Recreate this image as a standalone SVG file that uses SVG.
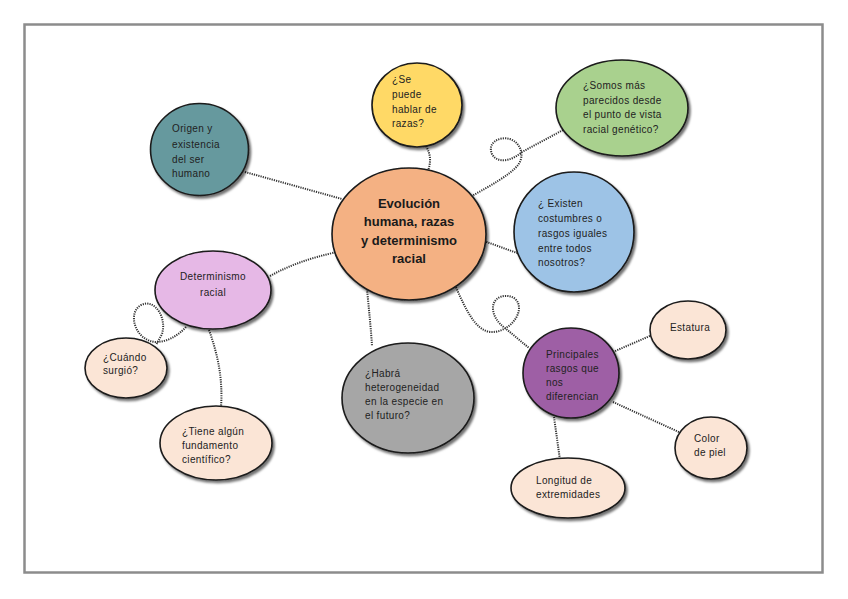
<svg xmlns="http://www.w3.org/2000/svg" width="848" height="599" viewBox="0 0 848 599">
<defs>
<filter id="sh" x="-20%" y="-20%" width="140%" height="140%">
<feDropShadow dx="2" dy="2.5" stdDeviation="1.2" flood-color="#000" flood-opacity="0.55"/>
</filter>
<style>
.n{stroke:#1a1a1a;stroke-width:1.6;filter:url(#sh)}
.t{font-family:"Liberation Sans",Arial,sans-serif;font-size:10px;fill:#222;letter-spacing:0.35px}
.c{text-anchor:middle}
.b{font-weight:bold;font-size:13px;letter-spacing:0;text-anchor:middle;fill:#1a1a1a}
.l{fill:none;stroke:#333;stroke-width:2;stroke-dasharray:1.2 1.1}
</style>
</defs>
<rect x="0" y="0" width="848" height="599" fill="#fff"/>
<rect x="24.5" y="24.5" width="798" height="548" fill="#fff" stroke="#8c8c8c" stroke-width="2.5"/>
<g id="connectors">
<path class="l" d="M245,172 L342,199"/>
<path class="l" d="M426,146 C431,155 431,162 428,171"/>
<path class="l" d="M563,130 L522,152 C512,161 497,164 492,154 C487,143 499,136 510,139 C521,143 525,156 518,165 C510,175 490,186 470,197"/>
<path class="l" d="M484,241 L517,253"/>
<path class="l" d="M270,276 C290,265 310,258 337,252"/>
<path class="l" d="M367,289 C369,310 371,330 372,346"/>
<path class="l" d="M455,285 C465,308 475,330 490,332 C505,333 519,320 519,308 C519,297 508,294 500,297 C489,302 491,318 505,328 L529,348"/>
<path class="l" d="M613,352 L652,335"/>
<path class="l" d="M613,402 L681,433"/>
<path class="l" d="M554,417 L560,460"/>
<path class="l" d="M186,327 Q172,342 155,342 C135,340 127,313 141,305 C155,298 167,318 162,334 L156,345"/>
<path class="l" d="M209,330 C218,355 223,380 221,407"/>
</g>
<g id="origen">
<ellipse class="n" cx="199.5" cy="149.5" rx="49" ry="46" fill="#66999e"/>
<text class="t" x="172" y="132">Origen y</text>
<text class="t" x="172" y="148">existencia</text>
<text class="t" x="172" y="163">del ser</text>
<text class="t" x="172" y="177">humano</text>
</g>
<g id="razas">
<ellipse class="n" cx="417" cy="105" rx="45" ry="42" fill="#ffd966"/>
<text class="t" x="392" y="83">¿Se</text>
<text class="t" x="392" y="98">puede</text>
<text class="t" x="392" y="113">hablar de</text>
<text class="t" x="392" y="127">razas?</text>
</g>
<g id="somos">
<ellipse class="n" cx="622" cy="108" rx="66" ry="48" fill="#a9d18e"/>
<text class="t" x="583" y="89">¿Somos más</text>
<text class="t" x="583" y="104">parecidos desde</text>
<text class="t" x="583" y="118">el punto de vista</text>
<text class="t" x="583" y="133">racial genético?</text>
</g>
<g id="centro">
<ellipse class="n" cx="409" cy="234" rx="77" ry="66" fill="#f4b183"/>
<text class="t b" x="409" y="208">Evolución</text>
<text class="t b" x="409" y="226">humana, razas</text>
<text class="t b" x="409" y="245">y determinismo</text>
<text class="t b" x="409" y="263">racial</text>
</g>
<g id="existen">
<ellipse class="n" cx="574" cy="232" rx="60" ry="60" fill="#9dc3e6"/>
<text class="t" x="538" y="207">¿ Existen</text>
<text class="t" x="538" y="222">costumbres o</text>
<text class="t" x="538" y="237">rasgos iguales</text>
<text class="t" x="538" y="252">entre todos</text>
<text class="t" x="538" y="266">nosotros?</text>
</g>
<g id="determinismo">
<ellipse class="n" cx="213" cy="290" rx="58" ry="39" fill="#e6b8e6"/>
<text class="t c" x="213" y="280">Determinismo</text>
<text class="t c" x="213" y="296">racial</text>
</g>
<g id="cuando">
<ellipse class="n" cx="126" cy="368" rx="41" ry="30" fill="#fbe5d6"/>
<text class="t" x="103" y="361">¿Cuándo</text>
<text class="t" x="103" y="374">surgió?</text>
</g>
<g id="tiene">
<ellipse class="n" cx="216" cy="443" rx="56" ry="37" fill="#fbe5d6"/>
<text class="t" x="182" y="435">¿Tiene algún</text>
<text class="t" x="182" y="449">fundamento</text>
<text class="t" x="182" y="463">científico?</text>
</g>
<g id="habra">
<ellipse class="n" cx="408" cy="398" rx="66" ry="55" fill="#a6a6a6"/>
<text class="t" x="365" y="377">¿Habrá</text>
<text class="t" x="365" y="391">heterogeneidad</text>
<text class="t" x="365" y="405">en la especie en</text>
<text class="t" x="365" y="419">el futuro?</text>
</g>
<g id="principales">
<ellipse class="n" cx="571" cy="373" rx="48" ry="45" fill="#9e5fa5"/>
<text class="t" x="546" y="358">Principales</text>
<text class="t" x="546" y="372">rasgos que</text>
<text class="t" x="546" y="386">nos</text>
<text class="t" x="546" y="400">diferencian</text>
</g>
<g id="estatura">
<ellipse class="n" cx="688" cy="330" rx="38" ry="29" fill="#fbe5d6"/>
<text class="t" x="670" y="331">Estatura</text>
</g>
<g id="color">
<ellipse class="n" cx="711" cy="448" rx="36" ry="31" fill="#fbe5d6"/>
<text class="t" x="694" y="442">Color</text>
<text class="t" x="694" y="456">de piel</text>
</g>
<g id="longitud">
<ellipse class="n" cx="568" cy="488" rx="57" ry="30" fill="#fbe5d6"/>
<text class="t" x="536" y="484">Longitud de</text>
<text class="t" x="536" y="498">extremidades</text>
</g>
</svg>
